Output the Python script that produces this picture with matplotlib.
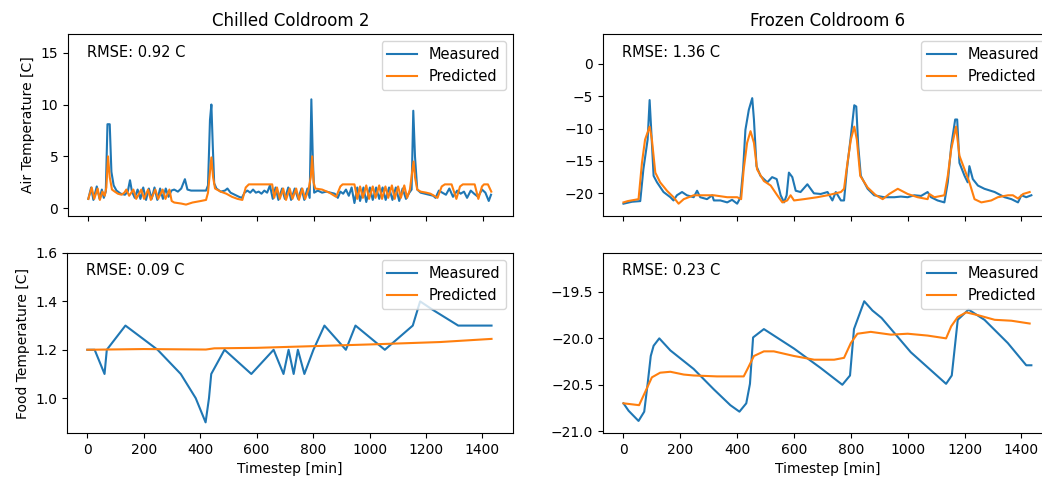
import matplotlib
matplotlib.use("Agg")
import matplotlib.pyplot as plt

# chilled coldroom 2 - air temperature (vertices)
chill_air_meas_t = [0, 10, 18, 30, 40, 48, 55, 62, 68, 76, 82, 90, 100, 115, 130, 140, 148, 155,
                    165, 175, 185, 195, 205, 215, 225, 235, 245, 255, 265, 275, 285, 295, 305, 318,
                    330, 343, 352, 365, 418, 425, 432, 437, 442, 447, 455, 470, 485, 494, 505, 520,
                    535, 545, 555, 565, 575, 585, 595, 605, 615, 625, 635, 645, 655, 665, 675, 688,
                    698, 710, 720, 733, 745, 757, 767, 778, 786, 792, 797, 802, 815, 830, 845, 860,
                    875, 886, 895, 905, 915, 925, 935, 945, 955, 965, 977, 987, 1000, 1010, 1022,
                    1033, 1045, 1056, 1068, 1080, 1092, 1104, 1116, 1128, 1140, 1148, 1154, 1160,
                    1168, 1180, 1195, 1210, 1225, 1233, 1245, 1257, 1270, 1282, 1295, 1310, 1322,
                    1334, 1345, 1358, 1370, 1384, 1398, 1410, 1422, 1430]
chill_air_meas = [0.9, 2.0, 0.8, 2.1, 0.9, 1.8, 1.0, 1.6, 8.1, 8.1, 3.5, 2.2, 1.7, 1.4, 1.3, 1.6, 2.7, 1.6,
                  1.0, 1.8, 0.9, 2.0, 0.8, 1.9, 0.9, 2.0, 0.8, 1.9, 0.9, 1.9, 1.1, 1.7, 1.8, 1.6,
                  1.9, 2.8, 1.8, 1.7, 1.7, 2.2, 8.5, 10.0, 6.0, 2.4, 1.9, 1.6, 1.7, 1.9, 1.5, 1.3,
                  1.1, 1.0, 1.5, 1.7, 1.5, 1.8, 1.5, 1.6, 1.4, 1.7, 1.5, 2.2, 0.9, 2.0, 0.8, 1.9,
                  0.9, 2.0, 0.8, 1.9, 0.9, 1.9, 0.8, 1.9, 1.0, 10.5, 5.0, 1.5, 1.7, 1.5, 1.6, 1.5,
                  1.4, 1.0, 1.6, 1.4, 1.8, 1.2, 2.0, 0.5, 2.0, 0.7, 2.0, 0.6, 2.0, 0.8, 2.0,
                  0.9, 2.0, 0.8, 2.0, 0.8, 2.0, 0.7, 1.9, 0.9, 1.5, 1.8, 9.4, 5.0,
                  1.8, 1.5, 1.4, 1.3, 1.2, 1.0, 1.7, 1.5, 1.3, 1.9, 1.1, 1.7, 1.4,
                  1.6, 1.0, 1.7, 1.4, 1.1, 1.8, 1.5, 0.7, 1.3]

chill_air_pred_t = [0, 12, 21, 33, 41, 50, 58, 64, 70, 76, 84, 94, 105, 118, 128, 135, 145, 160,
                    170, 188, 198, 212, 222, 238, 248, 264, 274, 288, 296, 305, 330, 347, 370, 400,
                    418, 425, 432, 437, 443, 450, 470, 490, 510, 530, 547, 559, 570, 653, 660, 670,
                    680, 692, 702, 715, 725, 738, 748, 760, 770, 782, 790, 795, 800, 806, 830, 856,
                    880, 895, 903, 945, 955, 965, 975, 987, 997, 1010, 1020, 1033, 1043, 1055, 1065,
                    1078, 1088, 1100, 1110, 1122, 1132, 1142, 1150, 1155, 1160, 1168, 1180, 1200,
                    1215, 1228, 1240, 1255, 1266, 1290, 1307, 1320, 1330, 1372, 1385, 1398, 1405,
                    1419, 1431]
chill_air_pred = [0.9, 2.0, 0.9, 1.9, 0.8, 1.6, 1.2, 2.0, 5.0, 3.0, 1.8, 1.6, 1.4, 1.3, 1.5, 1.8, 1.2, 1.8,
                  0.9, 1.8, 0.9, 1.8, 0.8, 1.8, 0.9, 1.8, 0.9, 1.8, 0.7, 0.55, 0.45, 0.35, 0.55, 0.7,
                  0.8, 1.5, 3.5, 4.9, 3.0, 1.9, 1.6, 1.4, 1.1, 0.9, 0.8, 2.0, 2.3, 2.3, 1.0, 2.0,
                  0.9, 1.9, 0.8, 1.9, 0.9, 1.9, 0.8, 1.9, 0.9, 1.8, 3.0, 5.0, 2.5, 1.9, 1.8, 1.5,
                  1.1, 2.1, 2.3, 2.3, 0.9, 2.1, 1.0, 2.2, 0.9, 2.1, 1.0, 2.2, 0.9, 2.1, 1.0,
                  2.2, 0.9, 2.1, 1.0, 2.2, 1.0, 1.8, 3.5, 4.5, 3.0, 1.8, 1.6, 1.5,
                  1.4, 1.2, 1.0, 2.1, 2.3, 2.3, 0.9, 2.1, 2.3, 2.3, 0.9, 2.1, 2.3,
                  2.3, 1.6]

# frozen coldroom 6 - air temperature
froz_air_meas_t = [0, 30, 59, 70, 85, 92, 97, 106, 118, 141, 165, 176, 188, 206, 223, 247, 259, 270,
                   294, 312, 318, 341, 365, 382, 400, 412, 421, 429, 441, 453, 459, 468, 482, 506,
                   523, 539, 553, 565, 574, 582, 594, 606, 623, 647, 670, 694, 718, 735, 747, 765,
                   776, 786, 800, 812, 819, 826, 835, 859, 882, 917, 953, 976, 1000, 1023, 1047,
                   1070, 1082, 1105, 1129, 1141, 1153, 1167, 1174, 1182, 1200, 1211, 1217, 1229,
                   1247, 1270, 1306, 1341, 1365, 1388, 1400, 1417, 1435]
froz_air_meas = [-21.6, -21.3, -21.2, -16.3, -11.7, -5.6, -9.7, -17.3, -18.3, -19.8, -20.6, -21.1, -20.3,
                 -19.8, -20.3, -20.6, -19.6, -20.6, -20.9, -20.3, -21.1, -21.1, -21.4, -21.0, -21.6,
                 -20.6, -16.3, -10.2, -7.1, -5.3, -8.6, -15.8, -17.3, -18.3, -17.5, -17.8, -20.3,
                 -21.4, -20.3, -16.8, -17.5, -19.6, -19.8, -18.6, -20.0, -20.1, -19.8, -21.1, -19.8,
                 -21.1, -21.1, -16.3, -11.2, -6.4, -6.6, -12.7, -17.3, -19.3, -20.3, -20.6, -20.6,
                 -20.5, -20.6, -20.3, -20.4, -19.8, -20.6, -21.1, -21.4, -18.3, -12.7, -8.6, -8.6,
                 -15.3, -17.3, -18.3, -15.8, -17.8, -18.8, -19.3, -19.8, -20.6, -20.9, -21.4,
                 -20.3, -20.6, -20.3]

froz_air_pred_t = [0, 15, 53, 65, 76, 92, 100, 112, 129, 153, 176, 194, 212, 247, 282, 318, 365, 400,
                   414, 423, 435, 447, 459, 470, 494, 518, 541, 559, 576, 588, 600, 635, 682, 718,
                   765, 776, 788, 800, 812, 821, 833, 859, 888, 912, 935, 965, 1000, 1035, 1070,
                   1076, 1094, 1129, 1141, 1153, 1170, 1182, 1200, 1217, 1235, 1259, 1294, 1317,
                   1353, 1370, 1388, 1406, 1429]
froz_air_pred = [-21.4, -21.2, -20.9, -15.3, -11.7, -9.7, -11.7, -16.8, -18.3, -19.6, -20.6, -21.6,
                 -20.9, -20.3, -20.3, -20.3, -20.6, -20.6, -20.9, -16.3, -12.2, -10.4, -12.2,
                 -16.3, -18.1, -18.8, -20.3, -21.4, -21.1, -20.3, -21.1, -20.9, -20.6, -20.3,
                 -19.8, -19.3, -15.3, -11.7, -9.7, -11.7, -17.3, -19.1, -20.3, -20.9, -20.1,
                 -19.3, -20.1, -20.6, -20.9, -20.1, -20.6, -20.3, -17.3, -13.2, -9.7, -14.2,
                 -16.3, -18.3, -20.9, -21.4, -21.1, -20.6, -20.3, -20.3, -20.8, -20.1, -19.8]

# chilled coldroom 2 - food temperature
chill_food_meas_t = [0, 26, 61, 69, 135, 249, 331, 384, 419, 431, 439, 486, 581, 660, 695, 713, 731,
                     746, 769, 801, 840, 916, 950, 1054, 1153, 1179, 1224, 1314, 1432]
chill_food_meas = [1.2, 1.2, 1.1, 1.2, 1.3, 1.2, 1.1, 1.0, 0.9, 1.0, 1.1, 1.2, 1.1, 1.2, 1.1, 1.2, 1.1,
                   1.2, 1.1, 1.2, 1.3, 1.2, 1.3, 1.2, 1.3, 1.4, 1.365, 1.3, 1.3]
chill_food_pred_t = [0, 200, 420, 450, 600, 800, 1000, 1150, 1250, 1432]
chill_food_pred = [1.200, 1.203, 1.201, 1.206, 1.208, 1.215, 1.222, 1.228, 1.232, 1.245]

# frozen coldroom 6 - food temperature
froz_food_meas_t = [0, 18, 53, 73, 85, 96, 106, 126, 165, 247, 318, 376, 408, 432, 445, 456, 494,
                    600, 694, 770, 797, 811, 847, 876, 908, 1011, 1135, 1155, 1176, 1214, 1270,
                    1352, 1417, 1435]
froz_food_meas = [-20.70, -20.78, -20.89, -20.79, -20.49, -20.19, -20.08, -20.00, -20.13, -20.33,
                  -20.55, -20.72, -20.79, -20.70, -20.49, -19.99, -19.90, -20.11, -20.32, -20.50,
                  -20.40, -19.90, -19.60, -19.70, -19.78, -20.15, -20.49, -20.40, -19.80, -19.69,
                  -19.80, -20.05, -20.29, -20.29]
froz_food_pred_t = [0, 55, 76, 100, 129, 165, 212, 247, 329, 423, 438, 459, 494, 529, 600, 671, 741,
                    776, 800, 823, 870, 941, 1000, 1070, 1135, 1153, 1176, 1206, 1247, 1306, 1365,
                    1429]
froz_food_pred = [-20.70, -20.72, -20.58, -20.42, -20.37, -20.36, -20.39, -20.40, -20.41, -20.41,
                  -20.32, -20.19, -20.14, -20.14, -20.19, -20.23, -20.23, -20.21, -20.05, -19.95,
                  -19.93, -19.96, -19.95, -19.97, -20.00, -19.87, -19.77, -19.72, -19.75, -19.80,
                  -19.81, -19.84]

rmse_text = ["RMSE: 0.92 C", "RMSE: 1.36 C", "RMSE: 0.09 C", "RMSE: 0.23 C"]

fig = plt.figure(figsize=(10.42, 4.83), dpi=100)
ax_tl = fig.add_axes([0.0653, 0.5528, 0.427, 0.3768])
ax_tr = fig.add_axes([0.5787, 0.5528, 0.431, 0.3768])
ax_bl = fig.add_axes([0.0643, 0.1035, 0.428, 0.3727])
ax_br = fig.add_axes([0.5787, 0.1035, 0.431, 0.3727])

panels = [
    (ax_tl, chill_air_meas_t, chill_air_meas, chill_air_pred_t, chill_air_pred),
    (ax_tr, froz_air_meas_t, froz_air_meas, froz_air_pred_t, froz_air_pred),
    (ax_bl, chill_food_meas_t, chill_food_meas, chill_food_pred_t, chill_food_pred),
    (ax_br, froz_food_meas_t, froz_food_meas, froz_food_pred_t, froz_food_pred),
]
for i, (ax, mt, mv, pt, pv) in enumerate(panels):
    ax.plot(mt, mv, color="C0", label="Measured")
    ax.plot(pt, pv, color="C1", label="Predicted")
    ax.legend(loc="upper right", fontsize=10.5)
    ax.text(0.042, 0.9, rmse_text[i], transform=ax.transAxes, va="center", fontsize=10.5)
    ax.set_xlim(-72, 1508)
    ax.set_xticks(range(0, 1401, 200))

ax_tl.set_xticklabels([])
ax_tr.set_xticklabels([])

ax_tl.set_ylim(-0.75, 16.8)
ax_tl.set_yticks([0, 5, 10, 15])
ax_tr.set_ylim(-23.5, 4.6)
ax_tr.set_yticks([-20, -15, -10, -5, 0])
ax_bl.set_ylim(0.856, 1.6)
ax_bl.set_yticks([1.0, 1.2, 1.4, 1.6])
ax_br.set_ylim(-21.02, -19.08)
ax_br.set_yticks([-21.0, -20.5, -20.0, -19.5])

ax_tl.set_title("Chilled Coldroom 2", fontsize=12)
ax_tr.set_title("Frozen Coldroom 6", fontsize=12)
ax_tl.set_ylabel("Air Temperature [C]")
ax_bl.set_ylabel("Food Temperature [C]")
ax_bl.set_xlabel("Timestep [min]")
ax_br.set_xlabel("Timestep [min]")

fig.savefig("out.png", dpi=100)
